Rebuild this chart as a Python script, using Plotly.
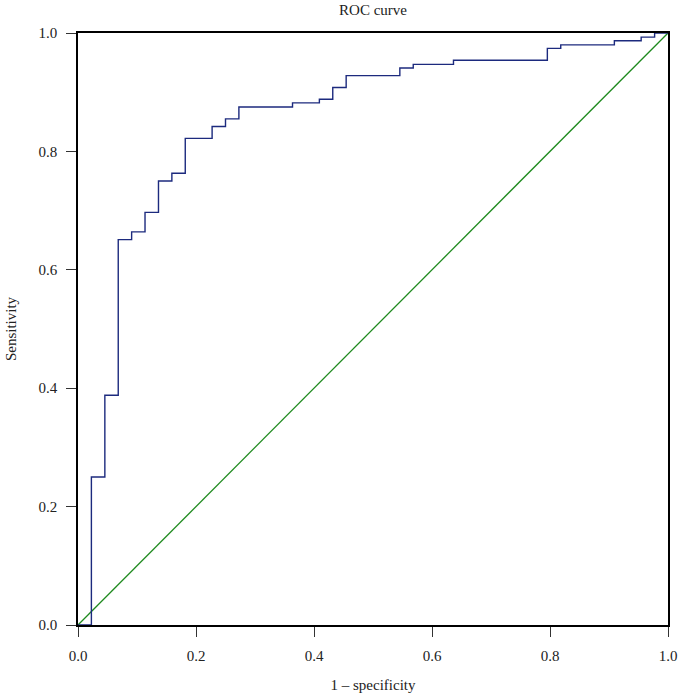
import plotly.graph_objects as go

# 1 - specificity (false positive rate) at each step of the ROC curve
fpr = [0.0, 0.0227, 0.0455, 0.0682, 0.0909, 0.1136, 0.1364, 0.1591, 0.1818,
       0.2273, 0.2500, 0.2727, 0.3636, 0.4091, 0.4318, 0.4545, 0.5455,
       0.5682, 0.6364, 0.7955, 0.8182, 0.9091, 0.9545, 0.9773, 1.0]
# sensitivity (true positive rate)
tpr = [0.0, 0.250, 0.388, 0.651, 0.664, 0.697, 0.750, 0.763, 0.822,
       0.842, 0.855, 0.875, 0.882, 0.888, 0.908, 0.928, 0.941,
       0.947, 0.954, 0.974, 0.980, 0.987, 0.993, 1.0, 1.0]

ref_x = [0.0, 1.0]
ref_y = [0.0, 1.0]

tick_vals = [0.0, 0.2, 0.4, 0.6, 0.8, 1.0]
tick_text = ["0.0", "0.2", "0.4", "0.6", "0.8", "1.0"]

FONT = "Liberation Serif"
FS = 15

fig = go.Figure()
fig.add_trace(go.Scatter(x=ref_x, y=ref_y, mode="lines",
                         line=dict(color="#1E8A1E", width=1.3),
                         showlegend=False, hoverinfo="skip"))
fig.add_trace(go.Scatter(x=fpr, y=tpr, mode="lines", line_shape="hv",
                         line=dict(color="#1C2A7E", width=1.4),
                         showlegend=False))

axis_common = dict(
    range=[0, 1], tickvals=tick_vals, ticktext=tick_text,
    showgrid=False, zeroline=False, showline=True, linecolor="black",
    linewidth=1.6, mirror=True, ticks="outside", ticklen=10, tickwidth=1.2,
    tickcolor="#333", tickfont=dict(family=FONT, size=FS, color="#222"),
    automargin=False, ticklabelstandoff=6,
)

fig.update_layout(
    width=679, height=693,
    margin=dict(l=78, r=11, t=33, b=68),
    paper_bgcolor="white", plot_bgcolor="white",
    title=dict(text="ROC curve", x=0.5, xref="paper", xanchor="center",
               y=1 - 10 / 693, yanchor="middle", yref="container",
               font=dict(family=FONT, size=FS, color="#222")),
    xaxis=dict(**axis_common,
               title=dict(text="1 \u2013 specificity", standoff=20,
                          font=dict(family=FONT, size=FS, color="#222"))),
    yaxis=dict(**axis_common,
               title=dict(text="Sensitivity", standoff=18,
                          font=dict(family=FONT, size=FS, color="#222"))),
)

fig.write_html("out.html",
               config={"displayModeBar": False},
               post_script="document.body.style.margin='0';document.body.style.overflow='hidden';")
